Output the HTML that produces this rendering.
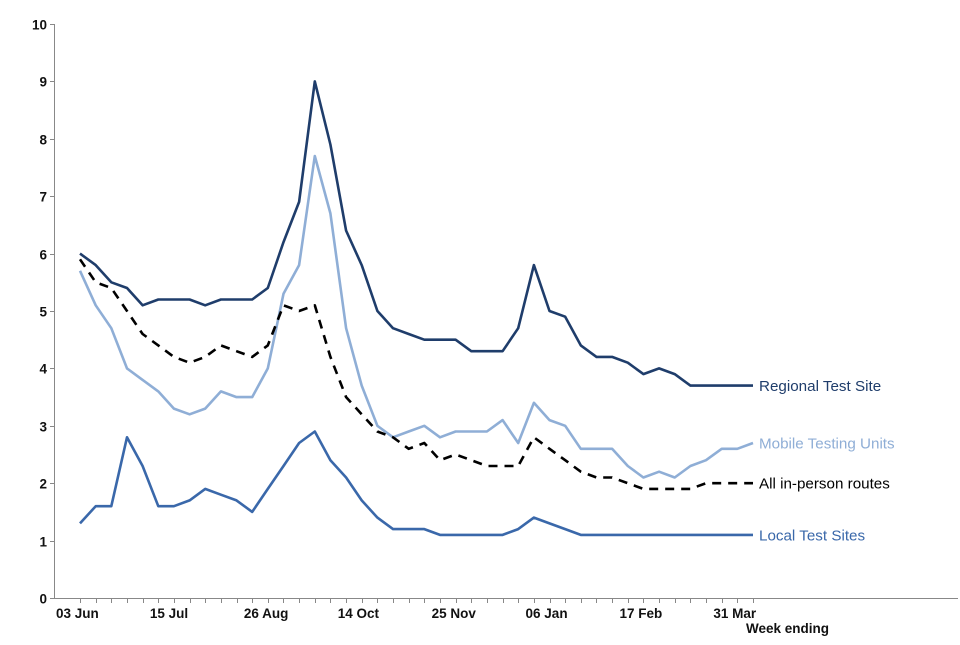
<!DOCTYPE html>
<html><head><meta charset="utf-8"><style>
body{margin:0;background:#fff;}
svg text{font-family:"Liberation Sans",Arial,sans-serif;}
</style></head><body>
<svg id="chart" width="960" height="640" xmlns="http://www.w3.org/2000/svg"></svg>
<script>
const xLabels=["03 Jun","15 Jul","26 Aug","14 Oct","25 Nov","06 Jan","17 Feb","31 Mar"];
const yTicks=[0,1,2,3,4,5,6,7,8,9,10];
const regional=[6.0,5.8,5.5,5.4,5.1,5.2,5.2,5.2,5.1,5.2,5.2,5.2,5.4,6.2,6.9,9.0,7.9,6.4,5.8,5.0,4.7,4.6,4.5,4.5,4.5,4.3,4.3,4.3,4.7,5.8,5.0,4.9,4.4,4.2,4.2,4.1,3.9,4.0,3.9,3.7,3.7,3.7,3.7,3.7];
const mobile=[5.7,5.1,4.7,4.0,3.8,3.6,3.3,3.2,3.3,3.6,3.5,3.5,4.0,5.3,5.8,7.7,6.7,4.7,3.7,3.0,2.8,2.9,3.0,2.8,2.9,2.9,2.9,3.1,2.7,3.4,3.1,3.0,2.6,2.6,2.6,2.3,2.1,2.2,2.1,2.3,2.4,2.6,2.6,2.7];
const allRoutes=[5.9,5.5,5.4,5.0,4.6,4.4,4.2,4.1,4.2,4.4,4.3,4.2,4.4,5.1,5.0,5.1,4.2,3.5,3.2,2.9,2.8,2.6,2.7,2.4,2.5,2.4,2.3,2.3,2.3,2.8,2.6,2.4,2.2,2.1,2.1,2.0,1.9,1.9,1.9,1.9,2.0,2.0,2.0,2.0];
const local=[1.3,1.6,1.6,2.8,2.3,1.6,1.6,1.7,1.9,1.8,1.7,1.5,1.9,2.3,2.7,2.9,2.4,2.1,1.7,1.4,1.2,1.2,1.2,1.1,1.1,1.1,1.1,1.1,1.2,1.4,1.3,1.2,1.1,1.1,1.1,1.1,1.1,1.1,1.1,1.1,1.1,1.1,1.1,1.1];
const seriesNames=["Regional Test Site","Mobile Testing Units","All in-person routes","Local Test Sites"];

const NS="http://www.w3.org/2000/svg";
const svg=document.getElementById('chart');
const x0=80, dx=(753-80)/43;
const xs=i=>x0+i*dx;
const ys=v=>598-v*57.4;
function mk(tag,attrs,txt){const e=document.createElementNS(NS,tag);for(const k in attrs)e.setAttribute(k,attrs[k]);if(txt!==undefined)e.textContent=txt;svg.appendChild(e);return e;}

let e=mk('line',{x1:54.5,y1:ys(10),x2:54.5,y2:598.5,stroke:'#888','stroke-width':1});


e=mk('line',{x1:54.5,y1:598.5,x2:958,y2:598.5,stroke:'#888','stroke-width':1});


yTicks.forEach(t=>{
  const y=Math.round(ys(t))+0.5;
  mk('line',{x1:50,y1:y,x2:54.5,y2:y,stroke:'#888'});
  const tx=mk('text',{x:47,y:y+5,'text-anchor':'end','font-size':13.5,'font-weight':'bold',fill:'#111'},String(t));
  
  
});
for(let i=0;i<regional.length;i++){
  const x=Math.round(xs(i))+0.5;
  mk('line',{x1:x,y1:598.5,x2:x,y2:603,stroke:'#888'});
}
xLabels.forEach((l,k)=>{
  const tx=mk('text',{x:xs(k*6)-24,y:618,'font-size':13.5,'font-weight':'bold',fill:'#111'},l);
  
  
});
e=mk('text',{x:746,y:633,'font-size':13.5,'font-weight':'bold',fill:'#111'},'Week ending');



const series=[[regional,'#1f3d6b',null,'regional-test-site-line'],[mobile,'#8faed6',null,'mobile-testing-units-line'],[allRoutes,'#000','9,7','all-in-person-routes-line'],[local,'#3a68aa',null,'local-test-sites-line']];
series.forEach((s,k)=>{
  const d=s[0].map((v,i)=>(i?'L':'M')+xs(i).toFixed(1)+','+ys(v).toFixed(1)).join(' ');
  const p=mk('path',{d:d,fill:'none',stroke:s[1],'stroke-width':2.6,'stroke-linejoin':'round'});
  if(s[2])p.setAttribute('stroke-dasharray',s[2]);
  
  
  const last=s[0][s[0].length-1];
  const t=mk('text',{x:759,y:ys(last)+5.5,'font-size':15.2,fill:s[1]},seriesNames[k]);
  
  
});
</script>
</body></html>
